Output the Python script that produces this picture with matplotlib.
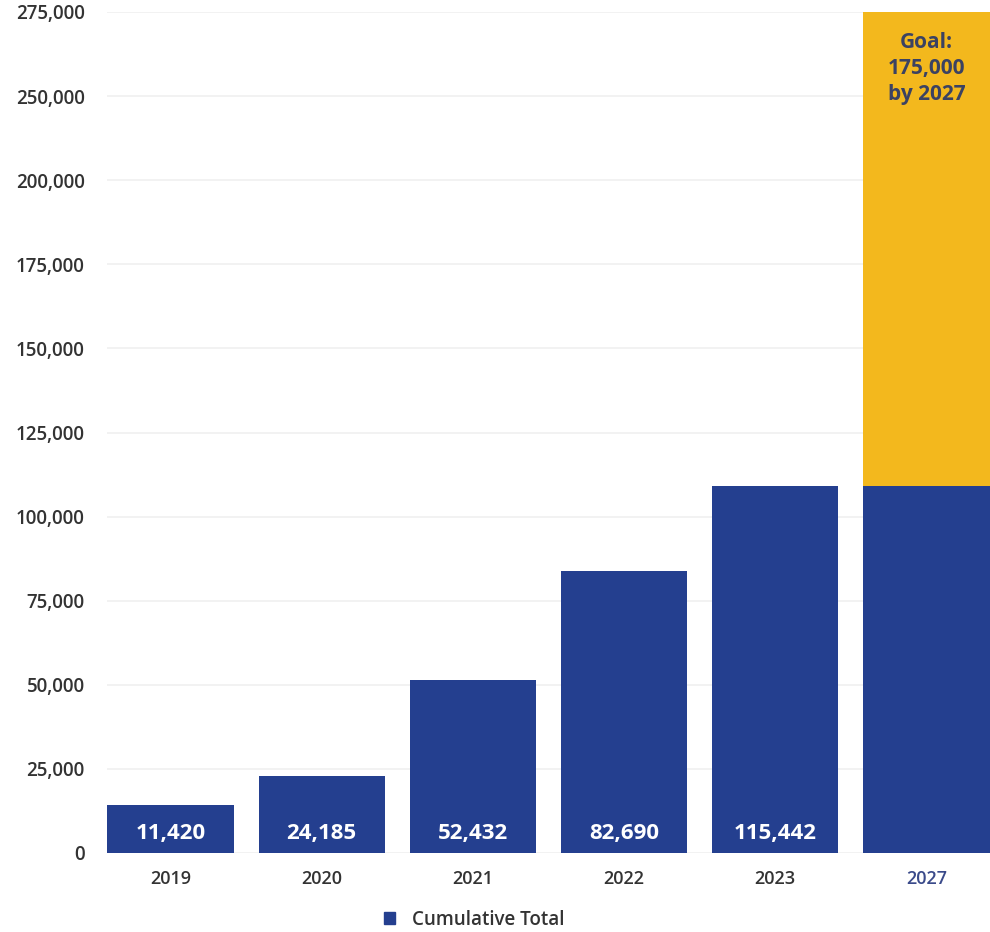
import numpy as np
import matplotlib
matplotlib.use("Agg")
import matplotlib.pyplot as plt
from matplotlib.patches import Patch

plt.rcParams['font.family'] = ['Open Sans', 'DejaVu Sans']

years = ['2019', '2020', '2021', '2022', '2023', '2027']
# heights as drawn in the picture (the printed labels differ a bit)
cumulative = [14300, 22900, 51400, 83800, 109000, 109000]
goal_extra = [0, 0, 0, 0, 0, 141000]
value_labels = ['11,420', '24,185', '52,432', '82,690', '115,442', '']
ytick_vals = [0, 25000, 50000, 75000, 100000, 125000, 150000, 175000, 200000, 225000, 250000]
ytick_text = ['0', '25,000', '50,000', '75,000', '100,000', '125,000', '150,000',
              '175,000', '200,000', '250,000', '275,000']

blue = '#243f8f'
gold = '#f3b81d'
grey = '#333333'

fig = plt.figure(figsize=(9.9, 9.32), dpi=100)
ax = fig.add_axes([107/990, 1 - 853/932, 883/990, 841/932])

x = np.arange(len(years))
ax.bar(x, cumulative, width=0.835, color=blue, zorder=2)
ax.bar(x, goal_extra, bottom=cumulative, width=0.835, color=gold, zorder=2)

for xi, lab in zip(x, value_labels):
    if lab:
        ax.text(xi, 5800, lab, ha='center', va='center', color='white',
                fontsize=16, fontweight='bold', zorder=3)

ax.text(x[-1], cumulative[-1] + goal_extra[-1] - 6000, 'Goal:\n175,000\nby 2027',
        ha='center', va='top', color='#3b4262', fontsize=15, fontweight='bold',
        linespacing=1.3, zorder=3)

ax.set_xlim(-0.42, 5.42)
ax.set_ylim(0, 250000)
ax.set_yticks(ytick_vals)
ax.set_yticklabels(ytick_text)
ax.set_xticks(x)
ax.set_xticklabels(years)
ax.tick_params(axis='y', length=0, pad=16, labelsize=13.5, labelcolor=grey)
ax.tick_params(axis='x', length=0, pad=12, labelsize=13, labelcolor=grey)
ax.get_xticklabels()[-1].set_color('#3a4a8a')
for t in ax.get_xticklabels() + ax.get_yticklabels():
    t.set_fontweight('semibold')

ax.grid(axis='y', color='#f0f0f0', linewidth=1.2, zorder=0)
for s in ax.spines.values():
    s.set_visible(False)

fig.legend(handles=[Patch(color=blue, label='Cumulative Total')],
           loc='center', bbox_to_anchor=(474/990, 1 - 920/932), frameon=False,
           handlelength=0.6, handleheight=0.6, handletextpad=0.9,
           prop={'size': 13.5, 'weight': 'semibold'}, labelcolor=grey)

fig.savefig('out.png', dpi=100)
